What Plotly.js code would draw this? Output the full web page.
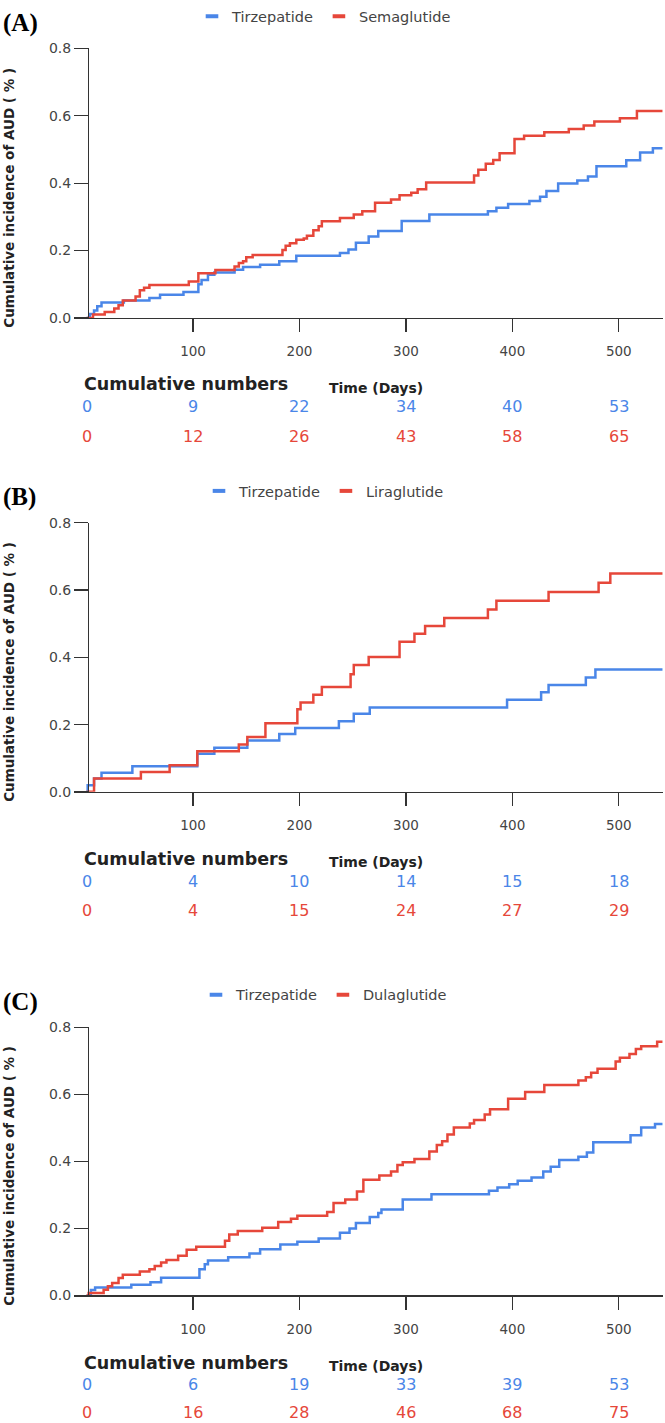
<!DOCTYPE html>
<html>
<head>
<meta charset="utf-8">
<script src="https://cdn.plot.ly/plotly-3.0.1.min.js"></script>
<style>html,body{margin:0;padding:0;background:#fff;}#chart{width:665px;height:1423px;}</style>
</head>
<body>
<div id="chart"></div>
<script>
// ---------- data ----------
const panelLetters = ["(A)", "(B)", "(C)"];
const comparatorNames = ["Semaglutide", "Liraglutide", "Dulaglutide"];
const referenceName = "Tirzepatide";

// Panel A
const daysA_tir = [0,3,7,10,14,35,59,69,91,105,108,114,120,139,147,163,181,197,238,246,253,265,274,296,322,377,385,396,416,426,432,443,461,471,479,507,520,532,541];
const ciA_tir   = [0,0.012,0.022,0.035,0.046,0.052,0.059,0.069,0.077,0.1,0.113,0.128,0.135,0.143,0.151,0.158,0.168,0.185,0.193,0.203,0.223,0.242,0.258,0.288,0.307,0.317,0.327,0.338,0.347,0.36,0.377,0.399,0.408,0.42,0.45,0.468,0.491,0.504,0.504];
const daysA_sem = [0,6,17,26,30,34,46,50,54,59,96,105,121,139,143,147,150,156,184,187,191,197,204,207,213,218,221,238,251,259,271,286,294,305,311,319,364,368,375,382,388,402,411,430,453,467,477,501,517,541];
const ciA_sem   = [0,0.01,0.018,0.028,0.038,0.052,0.064,0.082,0.09,0.098,0.108,0.133,0.142,0.153,0.163,0.168,0.18,0.187,0.202,0.214,0.222,0.232,0.236,0.244,0.26,0.272,0.287,0.297,0.307,0.317,0.342,0.352,0.364,0.372,0.382,0.402,0.423,0.44,0.458,0.469,0.489,0.531,0.541,0.551,0.561,0.571,0.583,0.593,0.614,0.614];

// Panel B
const daysB_tir = [0,1,7,14,43,104,120,151,181,196,237,251,266,395,427,434,469,478,541];
const ciB_tir   = [0,0.02,0.04,0.057,0.076,0.113,0.131,0.153,0.172,0.19,0.21,0.232,0.251,0.274,0.296,0.318,0.34,0.364,0.364];
const daysB_lir = [0,7,51,78,104,143,151,168,198,201,213,221,248,251,265,294,308,318,336,377,385,434,481,492,541];
const ciB_lir   = [0,0.04,0.059,0.079,0.121,0.141,0.163,0.204,0.246,0.266,0.289,0.312,0.35,0.377,0.401,0.446,0.47,0.493,0.517,0.542,0.568,0.594,0.622,0.649,0.649];

// Panel C
const daysC_tir = [0,4,8,42,60,70,106,111,114,133,153,163,182,198,218,238,247,253,266,274,277,297,324,378,386,397,405,418,429,436,444,462,470,476,511,521,534,541];
const ciC_tir   = [0,0.016,0.024,0.032,0.039,0.053,0.078,0.093,0.104,0.114,0.125,0.138,0.152,0.16,0.17,0.187,0.2,0.216,0.234,0.246,0.256,0.286,0.302,0.312,0.322,0.332,0.342,0.352,0.37,0.384,0.404,0.414,0.426,0.457,0.478,0.501,0.511,0.511];
const daysC_dul = [0,2,16,20,24,30,34,50,59,64,70,75,86,94,103,130,134,142,165,180,192,198,226,232,243,254,260,275,286,292,297,308,322,329,334,339,345,360,364,374,379,396,412,430,462,469,474,480,497,501,510,516,521,536,541];
const ciC_dul   = [0,0.007,0.017,0.027,0.037,0.052,0.062,0.071,0.078,0.088,0.098,0.106,0.118,0.136,0.145,0.163,0.182,0.192,0.202,0.219,0.229,0.238,0.249,0.276,0.286,0.31,0.345,0.358,0.37,0.389,0.397,0.407,0.429,0.449,0.46,0.48,0.501,0.513,0.523,0.54,0.555,0.587,0.607,0.628,0.641,0.651,0.664,0.676,0.698,0.709,0.72,0.735,0.743,0.757,0.757];

// Cumulative numbers table
const tableDays = [0,100,200,300,400,500];
const numsA_tir = [0,9,22,34,40,53];
const numsA_sem = [0,12,26,43,58,65];
const numsB_tir = [0,4,10,14,15,18];
const numsB_lir = [0,4,15,24,27,29];
const numsC_tir = [0,6,19,33,39,53];
const numsC_dul = [0,16,28,46,68,75];

const xTickVals = [100,200,300,400,500];
const yTickVals = [0,0.2,0.4,0.6,0.8];
const yTitle = "Cumulative incidence of AUD ( % )";
const cumLabel = "Cumulative numbers";
const timeLabel = "Time (Days)";

// ---------- styling ----------
const BLUE = "#4a86e8";
const RED = "#e6473a";
const AXC = "#333333";
const TXT = "#444444";
const W = 665, H = 1423, ML = 74, MR = 2;
const PW = W - ML - MR;
const px2paperX = p => (p - ML) / PW;
const px2paperY = p => 1 - p / H;

const panels = [
  {daysT: daysA_tir, ciT: ciA_tir, daysC: daysA_sem, ciC: ciA_sem, numsT: numsA_tir, numsC: numsA_sem, top: 40.7, bottom: 311.7, legendY: 8.3, cumOff: 66.3, timeOff: 70, blueOff: 89, redOff: 118.3},
  {daysT: daysB_tir, ciT: ciB_tir, daysC: daysB_lir, ciC: ciB_lir, numsT: numsB_tir, numsC: numsB_lir, top: 517.7, bottom: 788.3, legendY: 485.7, cumOff: 67, timeOff: 70.5, blueOff: 89.5, redOff: 119},
  {daysT: daysC_tir, ciT: ciC_tir, daysC: daysC_dul, ciC: ciC_dul, numsT: numsC_tir, numsC: numsC_dul, top: 1025, bottom: 1294.7, legendY: 992.3, cumOff: 68, timeOff: 70.5, blueOff: 89.5, redOff: 117.3}
];

const traces = [];
const annotations = [];
const layout = {
  width: W, height: H,
  margin: {l: ML, r: MR, t: 0, b: 0, pad: 0},
  paper_bgcolor: "#fff", plot_bgcolor: "#fff",
  font: {family: "DejaVu Sans", size: 13.5, color: TXT},
  showlegend: true,
  annotations: annotations
};

panels.forEach((p, i) => {
  const k = i === 0 ? "" : String(i + 1);
  const xa = "x" + k, ya = "y" + k;
  const lg = "legend" + k;

  traces.push({x: p.daysT, y: p.ciT, xaxis: xa, yaxis: ya, type: "scatter", mode: "lines",
    line: {shape: "hv", color: BLUE, width: 2.5}, name: referenceName, showlegend: false, hoverinfo: "skip"});
  traces.push({x: p.daysC, y: p.ciC, xaxis: xa, yaxis: ya, type: "scatter", mode: "lines",
    line: {shape: "hv", color: RED, width: 2.5}, name: comparatorNames[i], showlegend: false, hoverinfo: "skip"});
  // legend entries
  [[referenceName, BLUE], [comparatorNames[i], RED]].forEach(([nm, col]) => {
    traces.push({x: [null], y: [null], xaxis: xa, yaxis: ya, type: "scatter", mode: "markers",
      marker: {symbol: "line-ew", size: 9, color: col, line: {color: col, width: 4}},
      name: nm, legend: lg, showlegend: true});
  });

  layout["xaxis" + k] = {
    domain: [0, 1], anchor: ya, range: [-11.84, 541.5],
    showline: true, linecolor: AXC, linewidth: 1.3,
    ticks: "outside", ticklen: 13, tickwidth: 1.3, tickcolor: AXC,
    tickvals: xTickVals, ticklabelstandoff: 8,
    tickfont: {size: 13.5, color: TXT},
    showgrid: false, zeroline: false, fixedrange: true
  };
  layout["yaxis" + k] = {
    domain: [px2paperY(p.bottom), px2paperY(p.top)], anchor: "free", position: px2paperX(88),
    range: [0, 0.8],
    showline: true, linecolor: AXC, linewidth: 1.3,
    ticks: "outside", ticklen: 14, tickwidth: 1.3, tickcolor: AXC,
    tickvals: yTickVals, tickformat: ".1f",
    tickfont: {size: 14, color: TXT},
    showgrid: false, zeroline: false, fixedrange: true
  };
  layout[lg] = {
    orientation: "h", x: px2paperX(324), xanchor: "center",
    y: px2paperY(p.legendY), yanchor: "middle",
    font: {size: 14.5, color: TXT}, bgcolor: "rgba(0,0,0,0)", borderwidth: 0
  };

  const yd = ya + " domain";
  annotations.push({text: "<b>" + panelLetters[i] + "</b>", xref: "paper", x: px2paperX(1), xanchor: "left",
    yref: yd, y: 1, yshift: 25.5, yanchor: "middle", showarrow: false,
    font: {family: "Liberation Serif", size: 25, color: "#000"}});
  annotations.push({text: "<b>" + yTitle + "</b>", xref: "paper", x: px2paperX(9), xanchor: "center",
    yref: yd, y: 0.5, yshift: -14.5, yanchor: "middle", textangle: -90, showarrow: false,
    font: {size: 13.5, color: "#222"}});
  annotations.push({text: "<b>" + cumLabel + "</b>", xref: "paper", x: px2paperX(81.5), xanchor: "left",
    yref: yd, y: 0, yshift: -p.cumOff, yanchor: "middle", showarrow: false,
    font: {size: 17.5, color: "#222"}});
  annotations.push({text: "<b>" + timeLabel + "</b>", xref: "paper", x: px2paperX(327), xanchor: "left",
    yref: yd, y: 0, yshift: -p.timeOff, yanchor: "middle", showarrow: false,
    font: {size: 14, color: "#222"}});
  tableDays.forEach((d, j) => {
    annotations.push({text: String(p.numsT[j]), xref: xa, x: d, xanchor: "center",
      yref: yd, y: 0, yshift: -p.blueOff, yanchor: "middle", showarrow: false,
      font: {size: 16, color: BLUE}});
    annotations.push({text: String(p.numsC[j]), xref: xa, x: d, xanchor: "center",
      yref: yd, y: 0, yshift: -p.redOff, yanchor: "middle", showarrow: false,
      font: {size: 16, color: RED}});
  });
});

Plotly.newPlot("chart", traces, layout, {displayModeBar: false, staticPlot: true});
</script>
</body>
</html>
